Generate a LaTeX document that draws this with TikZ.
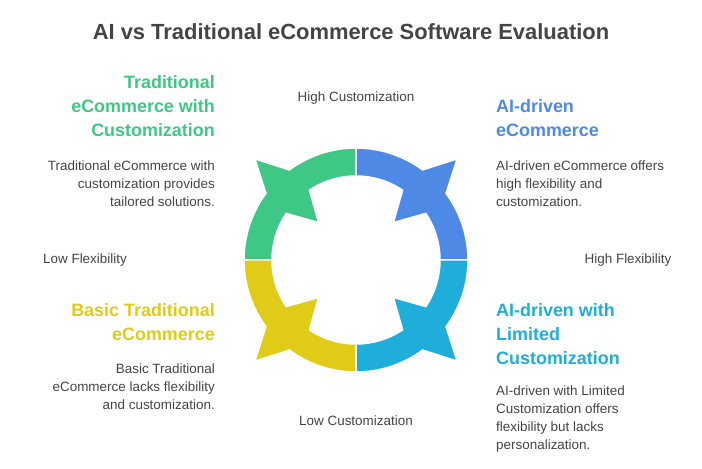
\documentclass[tikz,border=0pt]{standalone}
\usepackage{fontspec}
\setmainfont{Liberation Sans}
\definecolor{cg}{HTML}{3EC785}
\definecolor{cb}{HTML}{4E89E6}
\definecolor{cc}{HTML}{1FADD9}
\definecolor{cy}{HTML}{E0CB16}
\definecolor{tx}{HTML}{444444}
\newcommand{\quadr}[2]{%
\fill[#2,draw=white,line width=1.5bp] (#1:112) arc[start angle=#1,end angle=#1+36.5,radius=112]
 -- (#1+45:143) -- (#1+53.5:112) arc[start angle=#1+53.5,end angle=#1+90,radius=112]
 -- (#1+90:84) arc[start angle=#1+90,end angle=#1+56.3,radius=84]
 -- (#1+45:53) -- (#1+33.7:84) arc[start angle=#1+33.7,end angle=#1,radius=84] -- cycle;}
\tikzset{
 head/.style={font=\fontsize{18}{24}\selectfont\bfseries,inner sep=0pt},
 body/.style={font=\fontsize{13.5}{18}\selectfont,text=tx,inner sep=0pt},
 axis/.style={font=\fontsize{13.5}{18}\selectfont,text=tx,inner sep=0pt}}
\begin{document}
\begin{tikzpicture}[x=1bp,y=-1bp]
\useasboundingbox (0,0) rectangle (702,469);
\begin{scope}[shift={(356,260)},y=1bp]
\quadr{0}{cb}\quadr{90}{cg}\quadr{180}{cy}\quadr{270}{cc}
\end{scope}
\node[font=\fontsize{22}{26}\selectfont\bfseries,text=tx] (t) at (351,32) {AI vs Traditional eCommerce Software Evaluation};
\node[axis] (hc) at (356,98) {High Customization};
\node[axis] (lc) at (356,421) {Low Customization};
\node[axis] (lf) at (85,260) {Low Flexibility};
\node[axis] (hf) at (628,260) {High Flexibility};
\node[head,text=cg,align=right,anchor=north east] (g) at (215,75) {Traditional\\eCommerce with\\Customization};
\node[body,align=right,anchor=north east] (gb) at (215,161) {Traditional eCommerce with\\customization provides\\tailored solutions.};
\node[head,text=cb,align=left,anchor=north west] (b) at (496,99) {AI-driven\\eCommerce};
\node[body,align=left,anchor=north west] (bb) at (496,161) {AI-driven eCommerce offers\\high flexibility and\\customization.};
\node[head,text=cy,align=right,anchor=north east] (y) at (215,303) {Basic Traditional\\eCommerce};
\node[body,align=right,anchor=north east] (yb) at (215,364) {Basic Traditional\\eCommerce lacks flexibility\\and customization.};
\node[head,text=cc,align=left,anchor=north west] (c) at (496,303) {AI-driven with\\Limited\\Customization};
\node[body,align=left,anchor=north west] (cbx) at (496,386) {AI-driven with Limited\\Customization offers\\flexibility but lacks\\personalization.};
\end{tikzpicture}
\end{document}
